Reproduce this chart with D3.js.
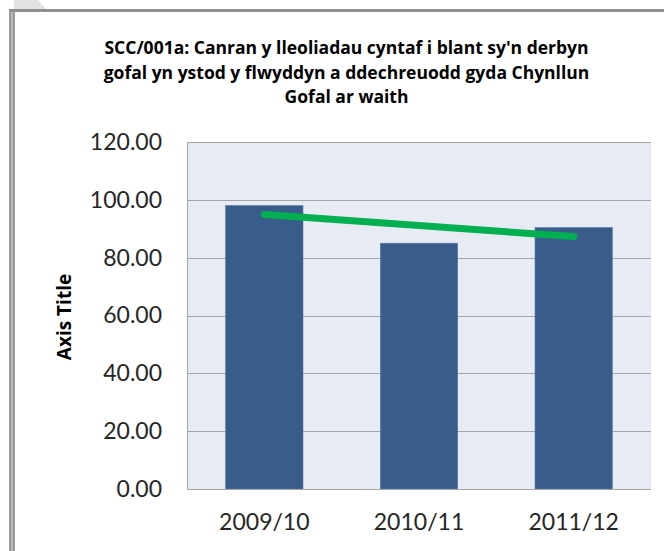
<!DOCTYPE html>
<html>
<head>
<meta charset="utf-8">
<script src="https://cdn.jsdelivr.net/npm/d3@7"></script>
<style>
  html, body { margin: 0; padding: 0; background: #ffffff; }
  svg { display: block; }
</style>
</head>
<body>
<svg id="chart" width="664" height="551"></svg>
<script>
// Chart data
const titleLines = [
  "SCC/001a: Canran y lleoliadau cyntaf i blant sy'n derbyn",
  "gofal yn ystod y flwyddyn a ddechreuodd gyda Chynllun",
  "Gofal ar waith"
];
const categories = ["2009/10", "2010/11", "2011/12"];
const values = [98.0, 85.0, 90.4];
// Linear trend line, value at first and last category
const trendCategories = ["2009/10", "2011/12"];
const trendValues = [94.9, 87.3];
const yTicks = [0, 20, 40, 60, 80, 100, 120];
const yTitle = "Axis Title";

const svg = d3.select("#chart");

// Outer frame of the chart object
svg.append("path")
  .attr("d", "M14,0 L38,0 L46,9 L14,9 Z")
  .attr("fill", "#e2e2e2");
svg.append("rect").attr("x", 9).attr("y", 9).attr("width", 6).attr("height", 542).attr("fill", "#9a9a9a");
svg.append("rect").attr("x", 11).attr("y", 11).attr("width", 2).attr("height", 540).attr("fill", "#b8b8b8");
svg.append("rect").attr("x", 9).attr("y", 9).attr("width", 655).attr("height", 3).attr("fill", "#8f8f8f");

// Plot area
const plot = { left: 187, right: 651, top: 142, bottom: 489 };

const x = d3.scaleBand()
  .domain(categories)
  .range([plot.left, plot.right])
  .paddingInner(0.5)
  .paddingOuter(0.25);

const y = d3.scaleLinear()
  .domain([0, 120])
  .range([plot.bottom, plot.top]);

svg.append("rect")
  .attr("x", plot.left).attr("y", plot.top)
  .attr("width", plot.right - plot.left)
  .attr("height", plot.bottom - plot.top)
  .attr("fill", "#e7ecf4");

// Gridlines
svg.append("g")
  .selectAll("line")
  .data(yTicks.filter(d => d > 0))
  .join("line")
  .attr("x1", plot.left).attr("x2", plot.right)
  .attr("y1", d => Math.round(y(d)) + 0.5).attr("y2", d => Math.round(y(d)) + 0.5)
  .attr("stroke", "#a6a6a6").attr("stroke-width", 1);

// Bars
svg.append("g")
  .selectAll("rect")
  .data(values)
  .join("rect")
  .attr("x", (d, i) => x(categories[i]))
  .attr("y", d => y(d))
  .attr("width", x.bandwidth())
  .attr("height", d => y(0) - y(d))
  .attr("fill", "#385d8a")
  .attr("stroke", "#5478a4")
  .attr("stroke-width", 0.6);

// Axes
const yAxis = d3.axisLeft(y)
  .tickValues(yTicks)
  .tickFormat(d3.format(".2f"))
  .tickSize(0)
  .tickPadding(25);

const gy = svg.append("g")
  .attr("transform", `translate(${plot.left},0)`)
  .call(yAxis);
gy.select(".domain").attr("stroke", "#a6a6a6");
gy.selectAll("text")
  .style("font-size", "23px")
  .style("font-family", "Lato, sans-serif")
  .attr("fill", "#262626");

const xAxis = d3.axisBottom(x).tickSize(0).tickPadding(25);
const gx = svg.append("g")
  .attr("transform", `translate(0,${plot.bottom})`)
  .call(xAxis);
gx.select(".domain").attr("stroke", "#a6a6a6").attr("d", `M${plot.left},0.5H${plot.right}`);
gx.selectAll("text")
  .style("font-size", "23px")
  .style("font-family", "Lato, sans-serif")
  .attr("fill", "#262626");

// Trend line
const line = d3.line()
  .x((d, i) => x(trendCategories[i]) + x.bandwidth() / 2)
  .y(d => y(d));
svg.append("path")
  .datum(trendValues)
  .attr("d", line)
  .attr("fill", "none")
  .attr("stroke", "#00b050")
  .attr("stroke-width", 7)
  .attr("stroke-linecap", "round");

// Axis title
svg.append("text")
  .attr("transform", "translate(71,317) rotate(-90)")
  .attr("text-anchor", "middle")
  .style("font-size", "19px")
  .style("font-weight", "bold")
  .style("font-family", "'Open Sans', sans-serif")
  .attr("fill", "#000")
  .text(yTitle);

// Chart title
svg.append("g")
  .selectAll("text")
  .data(titleLines)
  .join("text")
  .attr("x", 346.5)
  .attr("y", (d, i) => 54 + i * 24.5)
  .attr("text-anchor", "middle")
  .style("font-size", "17.5px")
  .style("font-weight", "bold")
  .style("font-family", "'Open Sans', sans-serif")
  .attr("fill", "#000")
  .text(d => d);
</script>
</body>
</html>
